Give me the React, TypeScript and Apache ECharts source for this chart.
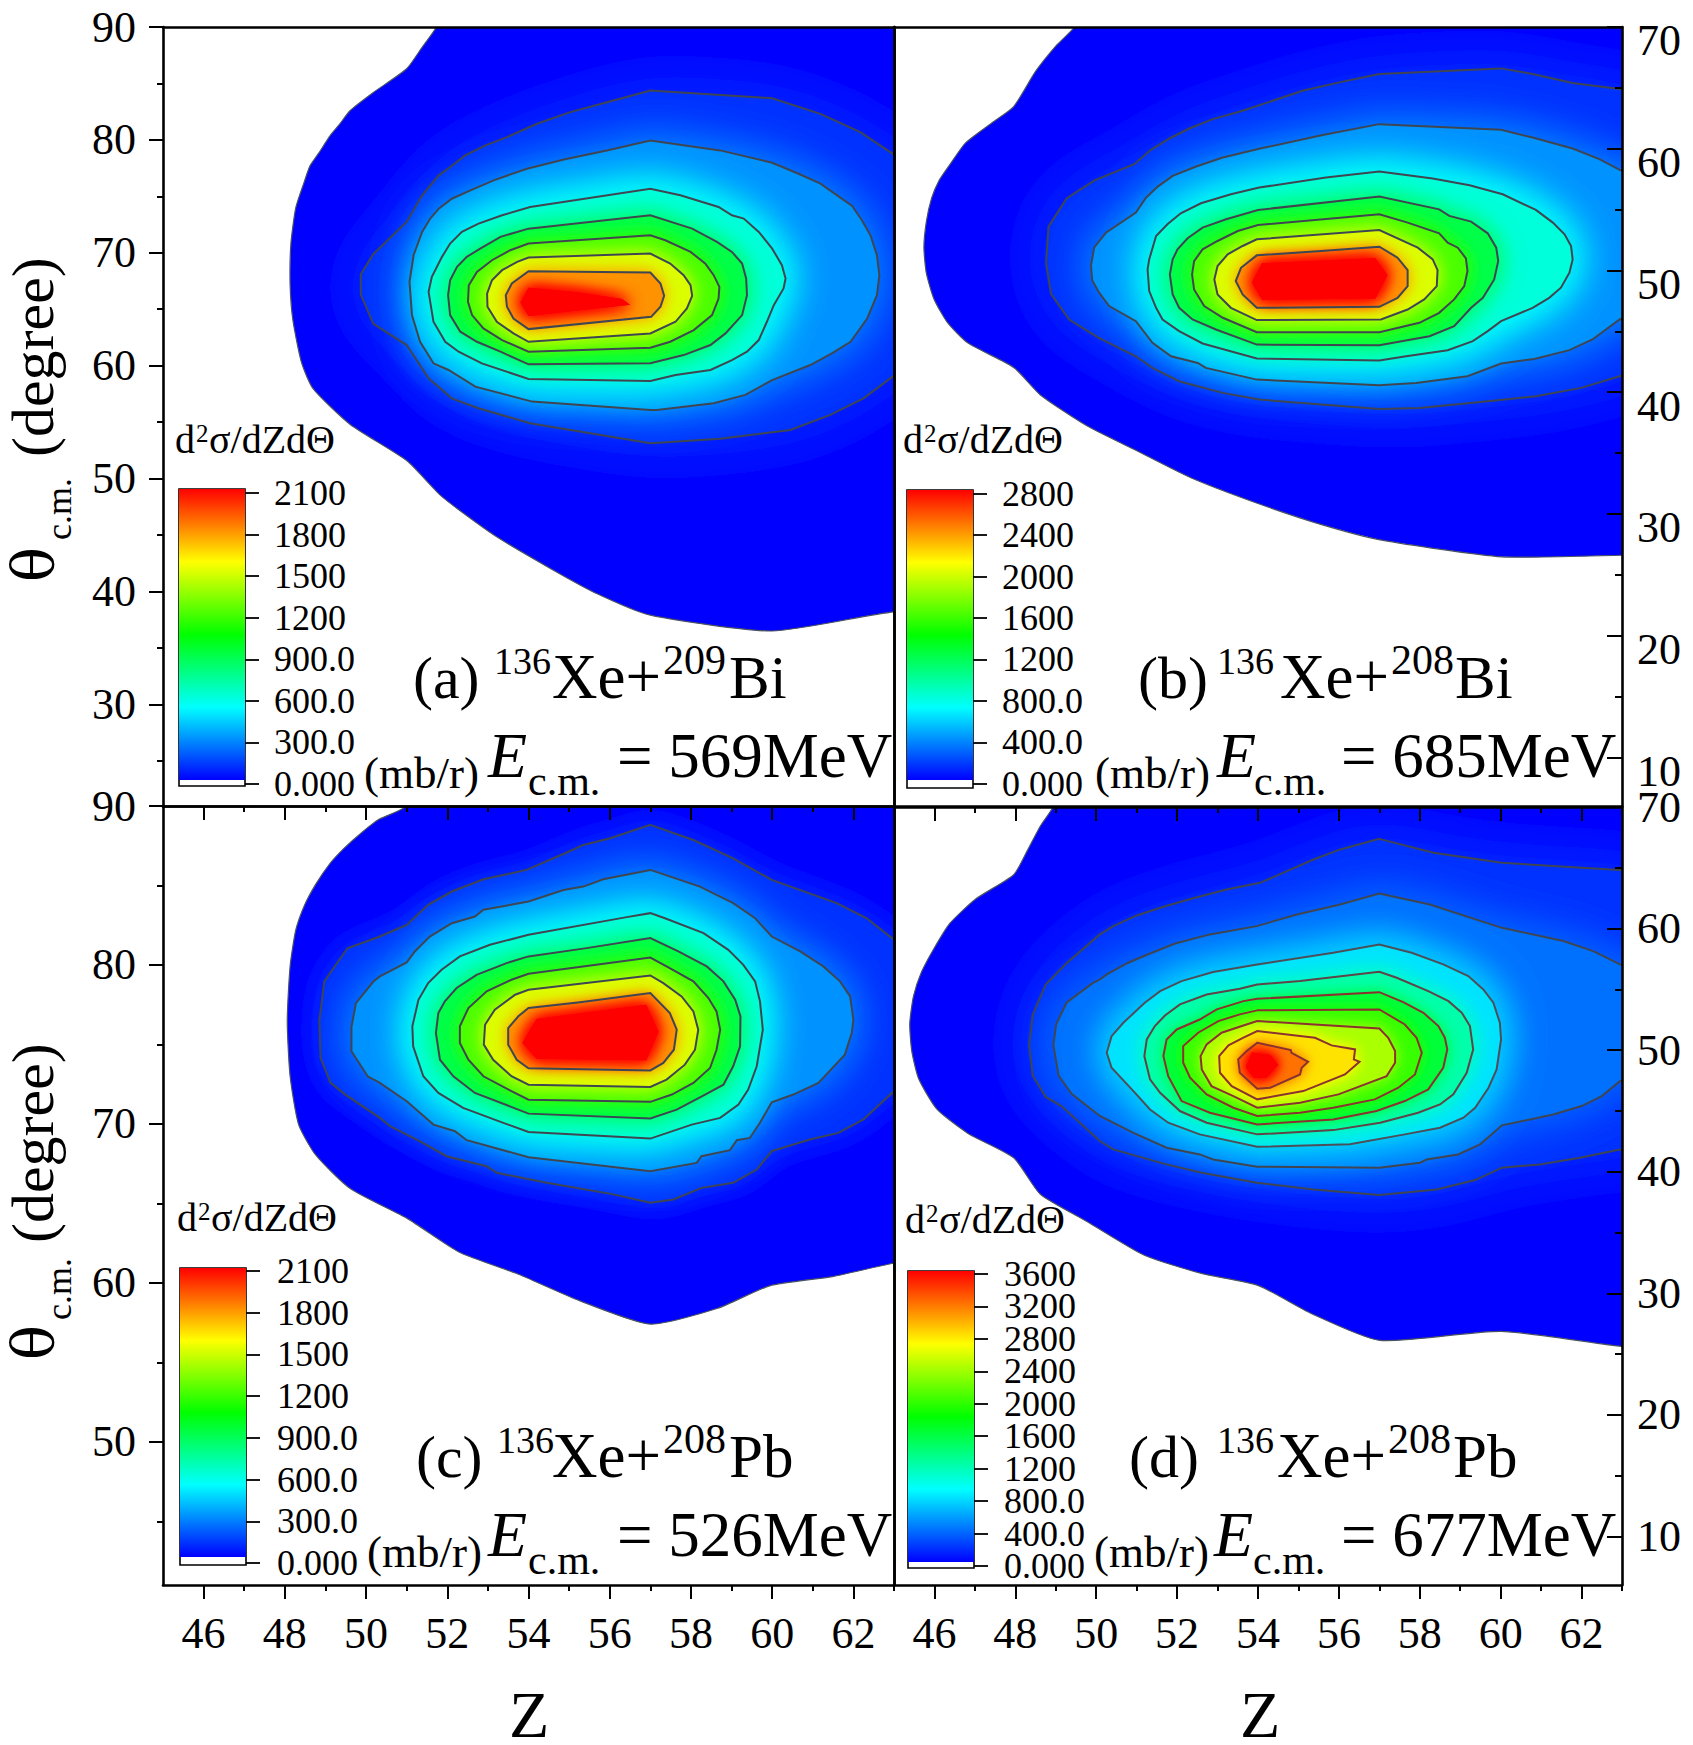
import React, { useEffect, useRef } from "react";
import * as echarts from "echarts";

type P = number[];
const FONT = "Liberation Serif";

// ---- Panel (a) 136Xe+209Bi, 569 MeV: contour rings, [Z, theta]
const outerA: P[] = [[51.73,91],[51.73,90],[51.38,88.2],[51,86.3],[50.18,84.2],[49.61,82.6],[49.33,81.3],[49.12,80.4],[48.83,78.8],[48.62,77.7],[48.48,76.3],[48.27,74],[48.15,70.8],[48.13,67.2],[48.2,64],[48.41,60.3],[48.69,58],[49.61,54.8],[51,51.6],[51.87,48.4],[53.15,45],[54.56,42],[55.69,39.8],[57,37.9],[60,36.5],[63,38.2],[64,38],[64,91]];
const ringA1: P[] = [[57,84.37],[60,83.69],[61.19,82.31],[62.17,80.69],[62.91,78.92],[64,76],[64,62],[62.91,58.88],[62.25,57.11],[61.43,55.64],[60.45,54.31],[58.72,53.52],[57,53.13],[54.04,54.9],[52.77,56.23],[52.11,57.11],[51.54,58.88],[51,61.83],[50.18,63.7],[49.87,66.3],[49.87,68.1],[50.18,69.9],[51,72.73],[51.38,75.09],[51.79,76.86],[52.07,77.6],[52.44,78.63],[52.94,79.51],[53.47,80.25],[54.21,81.43],[55.03,82.46],[55.93,83.34]];
const ringA2: P[] = [[57,79.95],[58.72,79.07],[60,77.98],[60.65,77],[61.19,76.12],[61.6,75.09],[61.97,74.15],[62.21,72.88],[62.42,71.55],[62.58,69.78],[62.64,68.02],[62.58,66.25],[62.34,64.18],[61.93,62.12],[61.47,61.09],[60.94,60.06],[60,58.73],[59.34,57.41],[58.56,56.67],[57.16,56.08],[57,56.08],[54.09,56.82],[52.69,58.14],[52.03,59.62],[51.66,60.21],[51.33,62.12],[51.13,64.48],[51.07,67.43],[51.17,69.78],[51.38,71.85],[51.58,73.03],[51.79,73.91],[52.11,74.79],[52.57,75.53],[53.14,76.42],[53.96,77.45],[54.87,78.27],[55.93,79.07]];
const ringA3: P[] = [[54.04,74.06],[57,75.68],[57.74,75.09],[58.68,74.06],[59.01,73.32],[59.3,73.03],[59.67,71.85],[60,70.37],[60.24,68.9],[60.33,67.72],[60.28,66.84],[60.04,65.36],[59.87,63.89],[59.67,62.27],[59.38,61.24],[59.01,60.5],[58.48,59.62],[57.62,59.17],[57,58.64],[54,58.82],[52.85,60.21],[52.28,61.24],[51.95,62.12],[51.66,63.89],[51.54,66.54],[51.62,67.87],[51.87,69.64],[52.07,70.82],[52.36,71.85],[52.77,72.58],[53.35,73.32]];
const ringA4: P[] = [[54,72.14],[57,73.32],[58.03,72.14],[58.64,70.96],[59.01,70.08],[59.26,69.05],[59.36,67.72],[59.38,66.25],[59.26,64.48],[58.85,62.86],[58.48,61.83],[57.82,60.94],[57,60.21],[54,60.12],[53.31,61.24],[52.73,62.12],[52.32,63.01],[52.07,64.48],[52.02,66.25],[52.07,67.57],[52.24,68.75],[52.48,69.64],[52.81,70.37],[53.31,71.41]];
const ringA5: P[] = [[54,70.82],[57,71.55],[57.37,71.11],[57.99,70.08],[58.35,69.05],[58.56,68.02],[58.7,66.98],[58.68,65.95],[58.52,64.48],[58.07,63.15],[57.49,62.12],[57,61.59],[54,61.24],[53.35,62.27],[52.89,63.3],[52.61,64.48],[52.51,65.66],[52.53,67.13],[52.73,68.31],[53.1,69.34],[53.55,70.23]];
const ringA6: P[] = [[54,69.58],[57,69.93],[57.49,69.05],[57.82,68.02],[57.99,67.13],[58.03,66.19],[57.9,65.07],[57.62,63.89],[57,62.86],[54,62.12],[53.63,62.86],[53.22,63.89],[52.99,65.22],[52.98,66.39],[53.1,67.57],[53.35,68.46],[53.72,69.19]];
const ringA7: P[] = [[54,68.37],[57,68.25],[57.25,67.28],[57.34,66.19],[57.25,65.22],[57.02,64.33],[54,63.24],[53.63,64.18],[53.47,65.22],[53.44,66.25],[53.59,67.28]];
const coreA: P[] = [[54,66.9],[55.2,66.5],[56.3,65.9],[56.5,65.4],[55.2,64.9],[54,64.4],[53.8,65.6]];
const levelsA = [100, 300, 600, 900, 1200, 1500, 1800, 2100];

// ---- Panel (b) 136Xe+208Bi, 685 MeV
const outerB: P[] = [[49.46,71],[49.46,70],[49.01,68.47],[48.5,66.35],[47.96,63.46],[47.41,62.1],[46.77,60.48],[46.38,58.69],[46.12,57.42],[45.93,55.93],[45.8,54.02],[45.74,51.89],[45.8,49.77],[45.99,47.64],[46.32,45.73],[46.83,44.03],[47.96,42.03],[48.62,39.77],[49.78,37.22],[50.93,35.31],[52.34,32.97],[54,30.85],[55.55,29.14],[57.02,27.87],[60.03,26.47],[63,26.6],[64,26.6],[64,71]];
const ringB1: P[] = [[57,66.14],[60.01,66.6],[60.79,66.14],[61.78,65.4],[62.94,64.9],[64,64.5],[64,42],[62.94,41.31],[61.99,40.35],[60.87,39.66],[59.68,39.25],[57.99,38.7],[57,38.62],[54.03,39.39],[53.13,39.94],[52.05,40.9],[51.39,41.99],[50.98,42.95],[50.04,44.5],[49.33,45.97],[48.88,48.07],[48.76,50.63],[48.82,53.6],[49.27,55.94],[49.97,57.42],[50.94,58.73],[51.35,59.91],[51.81,60.84],[52.3,61.66],[52.88,62.43],[53.62,63.12],[55.1,64.76],[56.01,65.45]];
const ringB2: P[] = [[57,62.02],[60.01,61.55],[60.79,60.92],[61.78,60.02],[62.44,59.14],[62.94,58.26],[64,57.5],[64,47],[62.94,45.97],[62.27,44.33],[61.7,43.45],[60.83,42.73],[60.01,42.35],[59.18,41.31],[57.91,40.76],[57,40.57],[53.97,41.03],[52.71,41.99],[52.51,42.4],[51.85,42.95],[51.39,44.05],[50.98,45.83],[50.32,47.07],[50.07,48.17],[49.9,49.2],[49.87,50.4],[49.95,51.9],[50.24,53.1],[50.98,54.75],[51.23,55.98],[51.52,56.89],[51.89,57.77],[52.47,58.54],[53.13,59.28],[54.03,60],[55.6,61.12]];
const ringB3: P[] = [[53.33,56.26],[54.03,56.81],[55.68,57.63],[57,58.12],[58.32,57.55],[59.23,57],[60.05,56.26],[60.87,54.97],[61.29,53.93],[61.58,52.97],[61.74,52.01],[61.78,50.91],[61.7,49.81],[61.49,48.58],[61.2,47.75],[60.79,46.93],[60.01,45.83],[59.68,45.01],[59.31,44.19],[58.69,43.45],[57.66,42.95],[57,42.6],[53.97,42.76],[52.63,44],[52.05,45.01],[51.64,45.97],[51.48,46.93],[51.31,48.3],[51.27,50.09],[51.31,50.91],[51.48,52.83],[51.76,53.79],[52.09,54.7],[52.59,55.52]];
const ringB4: P[] = [[54,54.97],[57,56.07],[58.48,55.02],[58.73,54.48],[59.27,54.01],[59.68,53.05],[59.89,51.87],[59.94,50.77],[59.84,49.26],[59.56,47.75],[59.27,46.93],[58.85,45.42],[58.24,44.6],[57,43.86],[53.97,43.91],[52.96,45.15],[52.38,45.97],[52.05,46.93],[51.89,48.03],[51.82,49.67],[51.89,50.91],[52.01,51.73],[52.26,52.64],[52.63,53.52],[53.21,54.2]];
const ringB5: P[] = [[54,53.73],[57,54.61],[57.7,53.93],[58.48,53.05],[58.69,52.28],[58.94,51.87],[59.14,50.99],[59.18,49.95],[59.1,48.71],[58.85,47.62],[58.48,46.52],[57.99,45.7],[57,44.93],[53.97,44.93],[53.13,46.11],[52.67,47.07],[52.42,48.44],[52.37,49.67],[52.42,50.77],[52.63,51.73],[53,52.42],[53.5,53.24]];
const ringB6: P[] = [[53.97,52.56],[57,53.32],[57.95,51.87],[58.32,50.91],[58.44,50.03],[58.42,48.71],[58.11,47.62],[57.7,46.79],[57.04,45.97],[53.97,45.92],[53.33,46.93],[53,48.03],[52.92,49.26],[53,50.36],[53.25,51.32],[53.62,52.01]];
const ringB7: P[] = [[53.97,51.24],[55.56,51.59],[57,51.95],[57.45,51.05],[57.7,50.03],[57.7,48.71],[57.45,47.75],[57,47.01],[53.97,46.93],[53.62,48.03],[53.45,49.13],[53.58,50.22]];
const coreB: P[] = [[54.1,50.6],[56.9,51],[57.2,49.6],[56.9,47.7],[54.1,47.6],[53.85,49]];
const levelsB = [140, 400, 800, 1200, 1600, 2000, 2400, 2800];

// ---- Panel (c) 136Xe+208Pb, 526 MeV
const outerC: P[] = [[50.95,91],[50.95,89.93],[50.32,89.16],[49.89,88.32],[49.47,87.37],[49.12,86.41],[48.76,85.07],[48.48,83.73],[48.27,82.2],[48.13,79.91],[48.06,76.46],[48.13,73.02],[48.34,69.96],[48.76,68.05],[49.61,65.94],[51.03,64.03],[52.3,61.93],[53.71,60.59],[55.27,58.87],[57,57.41],[58.66,58.41],[59.94,59.82],[61.49,60.4],[63,61.24],[64,61.5],[64,91]];
const ringC1: P[] = [[57,88.81],[58.06,87.86],[59.04,86.71],[59.99,85.35],[61.59,83.89],[62.33,82.94],[62.95,81.69],[64,80],[64,73],[62.95,71.95],[62.25,70.28],[61.63,69.44],[60.93,69.02],[59.99,68.29],[59.62,67.13],[59.04,66.3],[58.26,65.98],[57.57,65.25],[57,65.04],[56.09,65.57],[54.45,66.3],[53.22,66.93],[52.97,67.34],[51.98,67.97],[51.33,68.91],[50.59,69.86],[50.34,70.38],[49.47,71.88],[49.12,72.6],[48.88,74.16],[48.85,76.5],[48.97,78.96],[49.54,81.05],[50.34,81.79],[51,82.52],[51.53,83.78],[52.11,84.62],[52.89,85.39],[53.95,85.98],[54.9,87.03],[55.35,87.55],[56.01,87.97]];
const ringC2: P[] = [[57,85.98],[58.22,84.93],[59.04,83.89],[59.58,82.94],[59.99,81.79],[60.69,80.85],[61.26,79.91],[61.67,78.97],[61.92,78.02],[62,76.56],[61.96,75.72],[61.79,74.36],[61.14,72.58],[60.52,71.85],[59.99,71.36],[59.7,70.07],[59.45,69.12],[59.13,68.98],[58.96,68.35],[58.26,67.97],[58.14,67.55],[57,67.03],[54,67.91],[52.48,68.98],[52.19,69.54],[51.66,69.96],[51,71.43],[50.34,72.58],[50.04,73],[49.64,74.57],[49.64,76.09],[49.75,77.6],[50.18,78.96],[50.34,79.28],[51,80.16],[51.2,80.85],[51.57,81.79],[52.11,82.63],[52.68,83.05],[52.89,83.47],[54,83.99],[54.86,84.72],[55.35,84.93],[55.84,85.39]];
const ringC3: P[] = [[53.05,81.27],[54,81.9],[56.42,83.01],[57,83.26],[57.36,82.94],[58.31,82],[58.92,80.95],[59.29,80.01],[59.58,78.97],[59.7,77.71],[59.77,75.93],[59.62,73.63],[59.41,72.16],[59.17,71.22],[58.72,70.38],[58.02,69.96],[57,69.08],[54,69.5],[53.38,70.07],[52.39,71.01],[51.78,71.95],[51.41,73],[51.16,74.88],[51.14,76.14],[51.29,77.81],[51.53,78.86],[51.86,79.7],[52.31,80.54]];
const ringC4: P[] = [[54,80.54],[55.43,81.06],[57,81.69],[57.69,80.85],[58.39,79.91],[58.8,78.97],[59.09,77.81],[59.22,76.77],[59.21,74.88],[59.04,73.63],[58.8,72.47],[58.35,71.85],[57.65,70.9],[57,70.34],[54,70.65],[53.54,71.11],[52.68,71.95],[52.15,73],[51.82,74.04],[51.72,75.72],[51.78,76.98],[51.94,77.71],[52.23,78.55],[52.72,79.38],[53.46,80.12]];
const ringC5: P[] = [[54,79.45],[57,80.47],[57.4,79.91],[58.06,78.97],[58.43,77.92],[58.63,77.08],[58.72,75.93],[58.63,74.67],[58.47,73.52],[58.06,72.58],[57.53,71.85],[57,71.39],[54,71.53],[53.58,72.06],[52.89,73],[52.52,74.04],[52.31,75.09],[52.31,76.14],[52.52,77.29],[52.97,78.34],[53.58,79.07]];
const ringC6: P[] = [[54,78.44],[57,79.34],[57.32,78.86],[57.77,78.02],[58.06,77.08],[58.18,75.93],[58.1,74.67],[57.85,73.73],[57.4,72.79],[57,72.33],[54,72.47],[53.58,73],[53.13,74.04],[52.9,74.99],[52.93,76.24],[53.17,77.19],[53.67,78.13]];
const ringC7: P[] = [[54,77.29],[55.27,77.65],[57,78.23],[57.48,76.98],[57.65,75.93],[57.58,74.67],[57.32,73.84],[57,73.37],[54,73.5],[53.71,74.04],[53.5,74.99],[53.5,76.03],[53.75,76.77]];
const coreC: P[] = [[54.2,76.6],[56.9,77.5],[57.2,75.8],[56.9,74],[54.2,74.1],[53.85,75.1]];
const levelsC = [100, 300, 600, 900, 1200, 1500, 1800, 2100];

// ---- Panel (d) 136Xe+208Pb, 677 MeV
const outerD: P[] = [[48.94,71],[48.94,70.04],[48.62,68.44],[48.3,66.43],[47.96,64.43],[47.02,62.43],[46.38,60.42],[46,58.42],[45.68,56.42],[45.48,54.41],[45.39,52.16],[45.44,49.91],[45.61,47.65],[46.06,45.15],[46.83,43.15],[47.96,41.14],[48.62,38.14],[49.78,35.89],[51.19,33.13],[52.6,31.63],[54.01,30.63],[55.29,28.38],[57.02,26.12],[60.01,26.87],[63.01,25.62],[64,25.4],[64,71]];
const ringD1: P[] = [[57,67.38],[58.34,66.23],[60.03,65.41],[62.95,64.81],[64,64.7],[64,41],[62.95,41.83],[61.96,41.15],[60.97,40.6],[60.03,40.33],[59.37,39.31],[58.42,38.54],[57,38.08],[55.37,38.54],[53.97,39.09],[52.61,39.92],[51.74,40.6],[50.42,41.83],[50.09,42.52],[49.14,45.4],[48.75,46.15],[48.43,47.9],[48.34,50.4],[48.43,52.9],[48.75,55.4],[49.27,57.16],[50.09,59.52],[50.42,60.2],[51,61.08],[51.66,61.79],[52.44,62.53],[53.22,63.22],[54.05,63.76],[55.37,65.68],[56.03,66.51]];
const ringD2: P[] = [[57,62.89],[58.25,61.98],[60.03,60.06],[61.55,58.97],[62.29,58.15],[62.95,57.05],[64,56],[64,49],[62.95,47.45],[62.5,46.22],[62,45.4],[61.3,44.71],[60.03,43.81],[59.78,43.07],[59.49,42.25],[58.95,41.42],[58.17,41.01],[58.01,40.74],[57,40.33],[53.98,40.41],[52.89,41.01],[52.56,41.42],[51.74,41.97],[50.92,43.2],[50.42,44.03],[50.09,44.58],[49.39,46.4],[49.07,47.9],[48.94,50.4],[49.01,52.15],[49.27,53.92],[49.91,55.51],[50.09,55.81],[50.26,56.23],[50.79,57.19],[51.33,57.95],[51.95,58.77],[52.81,59.52],[53.97,60.2],[54.96,61.16],[56.03,61.98]];
const ringD3: P[] = [[57,58.69],[57.8,58.01],[58.58,57.05],[59.2,56.09],[59.57,54.99],[59.82,53.9],[59.98,52.25],[60.01,50.88],[59.9,48.41],[59.7,46.91],[59.37,45.26],[59.08,44.44],[58.5,43.62],[57.63,43.07],[56.27,42.25],[53.98,42.05],[52.56,43.07],[51.78,44.03],[51.33,45.12],[50.96,46.49],[50.38,48.55],[50.26,49.78],[50.38,51.15],[50.67,52.25],[51.2,53.9],[51.58,54.85],[52.11,55.68],[52.89,56.42],[53.98,57.05],[55.86,58.01]];
const ringD4: P[] = [[53.98,55.4],[55.04,55.68],[57,56.44],[57.43,55.95],[58.21,54.85],[58.71,54.03],[59.04,53.07],[59.24,51.98],[59.32,50.06],[59.16,48.14],[58.83,46.36],[58.5,45.53],[57.96,44.85],[57.02,44.03],[55.86,43.42],[53.98,43.07],[52.73,44.03],[52.07,44.99],[51.58,46.49],[51.33,47.59],[51.19,49.51],[51.25,50.88],[51.45,51.98],[51.7,52.85],[52.07,53.76],[52.73,54.58],[53.55,55.05]];
const ringD5: P[] = [[53.98,54.22],[57,54.77],[57.59,53.95],[58.09,53.07],[58.46,51.98],[58.62,51.02],[58.68,50.06],[58.58,48.55],[58.21,46.77],[57.63,45.81],[56.93,44.99],[55.86,44.3],[53.98,43.89],[52.81,44.85],[52.11,45.81],[51.78,47.86],[51.66,49.51],[51.74,50.88],[51.99,51.7],[52.56,52.52],[52.98,53.35],[53.64,54.03]];
const ringD6: P[] = [[53.98,53.27],[57,53.35],[57.63,52.11],[57.92,51.02],[58.05,49.78],[57.88,48],[57.47,46.91],[56.89,45.95],[55.86,45.26],[55.04,44.85],[53.98,44.58],[53.39,45.26],[52.73,46.36],[52.32,47.73],[52.15,48.96],[52.15,50.33],[52.52,51.43],[53.02,52.39],[53.55,52.94]];
const ringD7: P[] = [[53.98,52.39],[57,51.78],[57.22,51.02],[57.39,49.92],[57.39,48.96],[57.18,47.86],[55.99,46.36],[55.04,45.67],[53.98,45.26],[53.39,46.22],[52.85,47.04],[52.61,48.41],[52.58,49.51],[52.73,50.47],[53.1,51.43],[53.6,51.98]];
const ringD8: P[] = [[53.98,51.57],[55.41,51.02],[55.82,50.39],[56.4,50.06],[56.37,49.24],[56.51,49.04],[56.15,48],[55.12,46.63],[53.98,45.95],[53.35,47.04],[53.06,48.14],[53.04,49.51],[53.27,50.39],[53.64,51.02]];
const ringD9: P[] = [[53.98,50.61],[54.81,50],[54.83,49.78],[55.24,49.04],[55.08,48.55],[55.04,48],[54.3,46.91],[53.98,46.82],[53.55,48.14],[53.51,49.24],[53.72,49.92]];
const coreD: P[] = [[53.85,49.8],[54.3,49.6],[54.5,48.8],[54.2,47.7],[53.9,47.7],[53.7,48.6]];
const levelsD = [180, 400, 800, 1200, 1600, 2000, 2400, 2800, 3200, 3600];

// ---- Axes
const zMajor = [46, 48, 50, 52, 54, 56, 58, 60, 62];
const zMinor = [47, 49, 51, 53, 55, 57, 59, 61, 63];
const thetaMajorA = [30, 40, 50, 60, 70, 80, 90];
const thetaMinorA = [25, 35, 45, 55, 65, 75, 85];
const thetaMajorC = [50, 60, 70, 80, 90];
const thetaMinorC = [45, 55, 65, 75, 85];
const thetaMajorR = [10, 20, 30, 40, 50, 60, 70];
const thetaMinorR = [15, 25, 35, 45, 55, 65];

// ---- Colour scales
const barTicksA = [0, 300, 600, 900, 1200, 1500, 1800, 2100];
const barTicksB = [0, 400, 800, 1200, 1600, 2000, 2400, 2800];
const barTicksD = [0, 400, 800, 1200, 1600, 2000, 2400, 2800, 3200, 3600];
const barLabelsD1 = [0, 800, 1600, 2400, 3200];
const barLabelsD2 = [400, 1200, 2000, 2800, 3600];

const STOPS = [[0, 0, 0, 255], [0.25, 0, 255, 255], [0.5, 0, 255, 0], [0.75, 255, 255, 0], [1, 255, 0, 0]];
function col(r: number) {
  const t = Math.max(0, Math.min(1, r));
  for (let i = 1; i < STOPS.length; i++) {
    if (t <= STOPS[i][0]) {
      const a = STOPS[i - 1], b = STOPS[i];
      const f = (t - a[0]) / (b[0] - a[0]);
      return `rgb(${[1, 2, 3].map((k) => Math.round(a[k] + (b[k] - a[k]) * f)).join(",")})`;
    }
  }
  return "rgb(255,0,0)";
}
const gradientStops = STOPS.map((s) => ({ offset: s[0], color: `rgb(${s[1]},${s[2]},${s[3]})` }));

const STROKE = "#3f4652";
const REDSTROKE = "#8a3230";

interface BarDef { left: number; top: number; width: number; height: number; min: number; max: number; blueFrom: number; ticks: number[]; labels: number[]; labels2?: number[]; labelMargin: number }
interface PanelDef {
  left: number; top: number; width: number; height: number;
  yMin: number; yMax: number; yMajor: number[]; yMinor: number[];
  side: "left" | "right"; xTicks: boolean; labelShift: number;
  outer: P[]; rings: P[][]; core: P[]; levels: number[];
  blurs: number[]; strokes: string[];
  bar: BarDef;
}

const grayStrokes = (n: number) => Array.from({ length: n }, () => STROKE);

const panels: PanelDef[] = [
  { left: 163, top: 27, width: 731, height: 779, yMin: 21, yMax: 90, yMajor: thetaMajorA, yMinor: thetaMinorA, side: "left", xTicks: false, labelShift: 0,
    outer: outerA, rings: [ringA1, ringA2, ringA3, ringA4, ringA5, ringA6, ringA7], core: coreA, levels: levelsA,
    blurs: [60, 44, 44, 24, 18, 18, 16, 16], strokes: grayStrokes(7),
    bar: { left: 179, top: 489, width: 66, height: 297, min: -14, max: 2129, blueFrom: 29, ticks: barTicksA, labels: barTicksA, labelMargin: 29 } },
  { left: 894, top: 27, width: 728, height: 779, yMin: 6, yMax: 70, yMajor: thetaMajorR, yMinor: thetaMinorR, side: "right", xTicks: false, labelShift: 1.15,
    outer: outerB, rings: [ringB1, ringB2, ringB3, ringB4, ringB5, ringB6, ringB7], core: coreB, levels: levelsB,
    blurs: [60, 44, 44, 26, 18, 18, 16, 16], strokes: grayStrokes(7),
    bar: { left: 907, top: 490, width: 66, height: 298, min: -39, max: 2834, blueFrom: 39, ticks: barTicksB, labels: barTicksB, labelMargin: 29 } },
  { left: 163, top: 806, width: 731, height: 779, yMin: 41, yMax: 90, yMajor: thetaMajorC, yMinor: thetaMinorC, side: "left", xTicks: true, labelShift: 0,
    outer: outerC, rings: [ringC1, ringC2, ringC3, ringC4, ringC5, ringC6, ringC7], core: coreC, levels: levelsC,
    blurs: [30, 40, 40, 24, 18, 18, 16, 16], strokes: grayStrokes(7),
    bar: { left: 180, top: 1268, width: 66, height: 297, min: -14, max: 2122, blueFrom: 43, ticks: barTicksA, labels: barTicksA, labelMargin: 31 } },
  { left: 894, top: 807, width: 728, height: 778, yMin: 6, yMax: 70, yMajor: thetaMajorR, yMinor: thetaMinorR, side: "right", xTicks: true, labelShift: 0,
    outer: outerD, rings: [ringD1, ringD2, ringD3, ringD4, ringD5, ringD6, ringD7, ringD8, ringD9], core: coreD, levels: levelsD,
    blurs: [60, 44, 40, 22, 14, 14, 14, 14, 14, 12], strokes: [STROKE, STROKE, "#4c4f5a", "#5f4448", REDSTROKE, REDSTROKE, REDSTROKE, REDSTROKE, REDSTROKE],
    bar: { left: 908, top: 1271, width: 66, height: 297, min: -25, max: 3637, blueFrom: 49, ticks: barTicksD, labels: barLabelsD1, labels2: barLabelsD2, labelMargin: 30 } },
];

const sw = 2.6;
function xAxisOf(grid: number, pos: "top" | "bottom", ticks: number[], len: number, inside: boolean, showLine: boolean, labels: boolean) {
  return {
    type: "value", gridIndex: grid, min: 45, max: 63, position: pos, z: 6,
    axisLine: { show: showLine, onZero: false, lineStyle: { color: "#000", width: sw } },
    axisTick: { show: ticks.length > 0, customValues: ticks, length: len, inside, lineStyle: { color: "#000", width: 2 } },
    axisLabel: { show: labels, customValues: labels ? ticks : undefined, margin: 26, fontFamily: FONT, fontSize: 44, color: "#000" },
    splitLine: { show: false },
  };
}
function yAxisOf(grid: number, pos: "left" | "right", min: number, max: number, ticks: number[], len: number, inside: boolean, showLine: boolean, labelTicks: number[] | null, margin: number) {
  return {
    type: "value", gridIndex: grid, min, max, position: pos, z: 6,
    axisLine: { show: showLine, onZero: false, lineStyle: { color: "#000", width: sw } },
    axisTick: { show: ticks.length > 0, customValues: ticks, length: len, inside, lineStyle: { color: "#000", width: 2 } },
    axisLabel: { show: !!labelTicks, customValues: labelTicks || undefined, margin, fontFamily: FONT, fontSize: 44, color: "#000", hideOverlap: false, showMinLabel: true, showMaxLabel: true },
    splitLine: { show: false },
  };
}
function barAxis(grid: number, b: BarDef, ticks: number[], labels: number[]) {
  return {
    type: "value", gridIndex: grid, min: b.min, max: b.max, position: "right", z: 8,
    axisLine: { show: false, onZero: false },
    axisTick: { show: ticks.length > 0, customValues: ticks, length: 14, lineStyle: { color: "#000", width: 1.8 } },
    axisLabel: { show: true, customValues: labels, margin: b.labelMargin, fontFamily: FONT, fontSize: 36, color: "#000", hideOverlap: false, showMinLabel: true, showMaxLabel: true,
      formatter: (v: number) => Number(v).toPrecision(4) },
    splitLine: { show: false },
  };
}

function buildOption() {
  const grids: any[] = [];
  const xAxes: any[] = [];
  const yAxes: any[] = [];
  const series: any[] = [];

  panels.forEach((p) => {
    const g = grids.length;
    grids.push({ left: p.left, top: p.top, width: p.width, height: p.height, containLabel: false });
    const xMain = xAxes.length;
    xAxes.push(xAxisOf(g, "bottom", p.xTicks ? zMajor : [], 14, false, true, p.xTicks));
    xAxes.push(xAxisOf(g, "bottom", p.xTicks ? zMinor : [], 6, false, false, false));
    xAxes.push(xAxisOf(g, "top", p.xTicks ? zMajor : [], 14, true, true, false));
    xAxes.push(xAxisOf(g, "top", p.xTicks ? zMinor : [], 6, true, false, false));
    const yMain = yAxes.length;
    const out = p.side === "left";
    const margin = out ? 27 : 15;
    // tick labels sit on their ticks, except in one panel where they hang below them
    yAxes.push(yAxisOf(g, p.side, p.yMin, p.yMax, p.yMajor, out ? 14 : 15, !out, true, p.labelShift ? null : p.yMajor, margin));
    yAxes.push(yAxisOf(g, p.side, p.yMin, p.yMax, p.yMinor, out ? 6 : 7, !out, false, null, 0));
    yAxes.push(yAxisOf(g, out ? "right" : "left", p.yMin, p.yMax, [], 0, false, true, null, 0));
    if (p.labelShift) {
      yAxes.push(yAxisOf(g, p.side, p.yMin + p.labelShift, p.yMax + p.labelShift, [], 0, false, false, p.yMajor, margin));
    }

    const vmax = p.levels[p.levels.length - 1];
    const stack = [p.outer, ...p.rings, p.core];

    series.push({
      type: "custom", coordinateSystem: "cartesian2d", xAxisIndex: xMain, yAxisIndex: yMain, clip: true, silent: true, z: 2,
      data: stack.map((_, k) => [k]),
      renderItem: (params: any, api: any) => {
        const k = params.dataIndex;
        const pts = stack[k].map((q) => api.coord(q));
        if (k === 0) {
          return { type: "polygon", shape: { points: pts, smooth: 0.2 }, style: { fill: "rgb(0,0,255)", stroke: "#4a5262", lineWidth: 1.2 } };
        }
        const isCore = k === stack.length - 1;
        const lvl = p.levels[k - 1];
        const prev = k === 1 ? 0 : p.levels[k - 2];
        const fill = col(lvl / vmax);
        const shadow = isCore ? fill : col((prev + (lvl - prev) * 0.8) / vmax);
        const style = { fill, shadowBlur: p.blurs[k - 1], shadowColor: shadow };
        const passes = k === 3 || isCore ? [0, 1, 2] : [0, 1];
        return {
          type: "group",
          children: passes.map(() => ({ type: "polygon", shape: { points: pts }, style })),
        };
      },
    });
    series.push({
      type: "custom", coordinateSystem: "cartesian2d", xAxisIndex: xMain, yAxisIndex: yMain, clip: true, silent: true, z: 3,
      data: p.rings.map((_, k) => [k]),
      renderItem: (params: any, api: any) => {
        const k = params.dataIndex;
        return {
          type: "polygon",
          shape: { points: p.rings[k].map((q) => api.coord(q)) },
          style: { fill: "none", stroke: p.strokes[k], lineWidth: 2 },
        };
      },
    });

    // colour scale
    const b = p.bar;
    const gb = grids.length;
    grids.push({ left: b.left, top: b.top, width: b.width, height: b.height, show: true, backgroundColor: "#fff", borderColor: "#000", borderWidth: 1.6, z: 4 });
    const xb = xAxes.length;
    xAxes.push({ type: "value", gridIndex: gb, min: 0, max: 1, show: false });
    const yb = yAxes.length;
    yAxes.push(barAxis(gb, b, b.ticks, b.labels));
    if (b.labels2) yAxes.push(barAxis(gb, b, [], b.labels2));
    series.push({
      type: "custom", coordinateSystem: "cartesian2d", xAxisIndex: xb, yAxisIndex: yb, silent: true, z: 5,
      data: [[0, b.blueFrom, 1, b.max]],
      renderItem: (_: any, api: any) => {
        const a = api.coord([api.value(0), api.value(1)]);
        const c = api.coord([api.value(2), api.value(3)]);
        return {
          type: "rect",
          shape: { x: a[0], y: c[1], width: c[0] - a[0], height: a[1] - c[1] },
          style: { fill: new echarts.graphic.LinearGradient(0, 1, 0, 0, gradientStops), lineWidth: 0 },
        };
      },
    });
  });

  return { animation: false, backgroundColor: "#fff", grid: grids, xAxis: xAxes, yAxis: yAxes, series, graphic: { elements: texts() } };
}

function t(x: number, base: number, text: string, size: number, extra: any = {}) {
  return { type: "text", x, y: base - 0.3375 * size, z: 20, silent: true,
    style: { text, fontFamily: FONT, fontSize: size, fill: "#000", align: "left", verticalAlign: "middle", ...extra } };
}
function v(x: number, y: number, text: string, size: number, family = FONT) {
  return { type: "text", x, y, rotation: Math.PI / 2, z: 20, silent: true,
    style: { text, fontFamily: family, fontSize: size, fill: "#000", align: "left", verticalAlign: "middle" } };
}

interface Ann { xs: number[]; rowOff: number; tag: string; mass: string; el: string; energy: string; dX: number; dBase: number }
const annotations: Ann[] = [
  { tag: "(a)", mass: "209", el: "Bi", energy: "= 569MeV", xs: [413, 494, 552, 663, 729, 364, 488, 528, 617], rowOff: 0, dX: 175, dBase: 453 },
  { tag: "(b)", mass: "208", el: "Bi", energy: "= 685MeV", xs: [1138, 1217, 1280, 1391, 1455, 1095, 1217, 1254, 1341], rowOff: 0, dX: 903, dBase: 453 },
  { tag: "(c)", mass: "208", el: "Pb", energy: "= 526MeV", xs: [416, 497, 552, 663, 729, 367, 488, 528, 617], rowOff: 779, dX: 177, dBase: 1231 },
  { tag: "(d)", mass: "208", el: "Pb", energy: "= 677MeV", xs: [1129, 1217, 1277, 1388, 1453, 1094, 1214, 1253, 1341], rowOff: 779, dX: 905, dBase: 1233 },
];

function texts() {
  const els: any[] = [];
  annotations.forEach((a) => {
    const o = a.rowOff, x = a.xs;
    els.push(t(x[0], 698 + o, a.tag, 60));
    els.push(t(x[1], 674 + o, "136", 38));
    els.push(t(x[2], 698 + o, "Xe+", 63));
    els.push(t(x[3], 674 + o, a.mass, 42));
    els.push(t(x[4], 698 + o, a.el, 61));
    els.push(t(x[5], 788 + o, "(mb/r)", 45));
    els.push(t(x[6], 777 + o, "E", 64, { fontStyle: "italic" }));
    els.push(t(x[7], 795 + o, "c.m.", 42));
    els.push(t(x[8], 777 + o, a.energy, 63));
    els.push(t(a.dX, a.dBase, "d", 40));
    els.push(t(a.dX + 21, a.dBase - 11, "2", 25));
    els.push(t(a.dX + 34, a.dBase, "σ/dZdΘ", 40));
  });
  els.push(v(33, 582, "θ", 58, "DejaVu Serif"), v(59, 540, "c.m.", 36), v(33, 457, "(degree)", 60));
  els.push(v(33, 1360, "θ", 58, "DejaVu Serif"), v(59, 1320, "c.m.", 36), v(33, 1243, "(degree)", 60));
  els.push(t(509, 1737, "Z", 66), t(1240, 1737, "Z", 66));
  return els;
}

export default function App() {
  const ref = useRef<HTMLDivElement>(null);
  useEffect(() => {
    document.body.style.margin = "0";
    const chart = echarts.init(ref.current!, undefined, { renderer: "svg" });
    chart.setOption(buildOption() as any);
    return () => chart.dispose();
  }, []);
  return <div ref={ref} style={{ width: 1693, height: 1745 }} />;
}
